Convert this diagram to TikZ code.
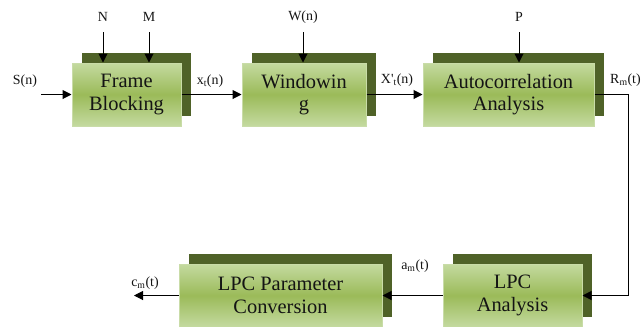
\documentclass[tikz,border=0pt]{standalone}
\usepackage{fontspec}
\setmainfont{Liberation Serif}
\newfontfamily\boxfont{Liberation Serif}
\usetikzlibrary{arrows.meta}
\definecolor{shadowc}{HTML}{4F6228}
\definecolor{boxlight}{HTML}{C4DAA0}
\definecolor{boxmid}{HTML}{9BBB59}
\definecolor{boxedge}{HTML}{C9DCA8}
\definecolor{txtc}{HTML}{141414}
\tikzset{
  shadowbox/.style={fill=shadowc, draw=none, inner sep=0pt, minimum height=63bp},
  frontbox/.style={draw=boxedge, line width=1bp, top color=boxlight, bottom color=boxlight, middle color=boxmid,
    inner sep=0pt, minimum height=63bp, align=center, text=txtc, font=\boxfont\fontsize{20.5}{22.5}\selectfont},
  lbl/.style={inner sep=0pt, text=txtc, font=\boxfont\fontsize{14}{16}\selectfont},
  arr/.style={line width=1bp, -{Triangle[length=9bp,width=9bp]}},
  wire/.style={line width=1bp}
}
\begin{document}
\begin{tikzpicture}[x=1bp,y=-1bp]
\useasboundingbox (0,0) rectangle (644,326);
% shadows
\node[shadowbox, minimum width=109bp] (fbs) at (136.5,84.5) {};
\node[shadowbox, minimum width=124bp] (wns) at (314,84.5) {};
\node[shadowbox, minimum width=171bp] (acs) at (518.5,84.5) {};
\node[shadowbox, minimum width=203bp] (lps) at (290.5,285.5) {};
\node[shadowbox, minimum width=139bp] (las) at (522.5,285.5) {};
% front boxes
\node[frontbox, minimum width=109bp] (fb) at (126.5,94.5) {Frame\\Blocking};
\node[frontbox, minimum width=124bp] (wn) at (304,94.5) {Windowin\\g};
\node[frontbox, minimum width=171bp] (ac) at (508.5,94.5) {Autocorrelation\\Analysis};
\node[frontbox, minimum width=203bp] (lp) at (280.5,295.5) {LPC Parameter\\Conversion};
\node[frontbox, minimum width=139bp] (la) at (512.5,295.5) {LPC\\Analysis};
% labels
\node[lbl] (ls) at (25,81) {S(n)};
\node[lbl] (lN) at (103,17) {N};
\node[lbl] (lM) at (149,17) {M};
\node[lbl] (lW) at (303,17) {W(n)};
\node[lbl] (lP) at (519,17) {P};
\node[lbl] (lx) at (210,81) {x\textsubscript{t}(n)};
\node[lbl] (lX) at (397,80) {X\textquotesingle\textsubscript{t}(n)};
\node[lbl, anchor=west] (lR) at (610,80) {R\textsubscript{m}(t)};
\node[lbl] (la2) at (415,266) {a\textsubscript{m}(t)};
\node[lbl] (lc) at (145,283) {c\textsubscript{m}(t)};
% coordinates
\coordinate (sin) at (41,94.5);
\coordinate (nN) at (103,32);
\coordinate (nM) at (149,32);
\coordinate (nW) at (303,32);
\coordinate (nP) at (519,32);
\coordinate (rc1) at (628,94.5);
\coordinate (rc2) at (628,295.5);
\coordinate (cout) at (134,295.5);
% arrows
\draw[arr] (sin) -- (fb.west);
\draw[arr] (nN) -- (nN |- fb.north);
\draw[arr] (nM) -- (nM |- fb.north);
\draw[arr] (nW) -- (nW |- wn.north);
\draw[arr] (nP) -- (nP |- ac.north);
\draw[arr] (fb.east) -- (wn.west);
\draw[arr] (wn.east) -- (ac.west);
\draw[arr] (ac.east) -- (rc1) -- (rc2) -- (la.east);
\draw[arr] (la.west) -- (lp.east);
\draw[arr] (lp.west) -- (cout);
\end{tikzpicture}
\end{document}
